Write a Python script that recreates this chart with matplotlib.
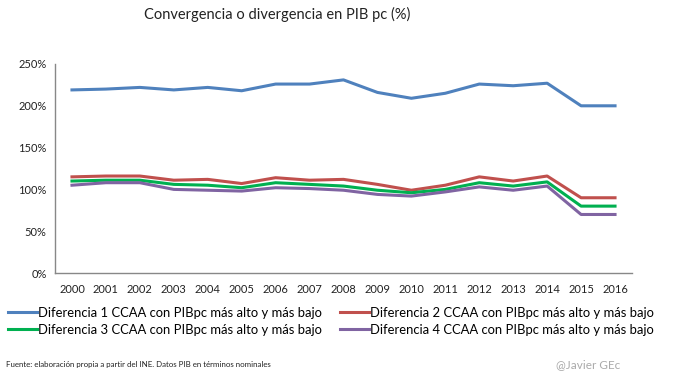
import numpy as np
import matplotlib
matplotlib.use("Agg")
import matplotlib.pyplot as plt
from matplotlib.ticker import FuncFormatter

plt.rcParams['font.family'] = ['Lato', 'DejaVu Sans']

years = list(range(2000, 2017))
dif1 = [219, 220, 222, 219, 222, 218, 226, 226, 231, 216, 209, 215, 226, 224, 227, 200, 200]
dif2 = [115, 116, 116, 111, 112, 107, 114, 111, 112, 106, 99, 105, 115, 110, 116, 90, 90]
dif3 = [110, 111, 111, 106, 105, 102, 108, 106, 104, 99, 96, 100, 108, 104, 109, 80, 80]
dif4 = [105, 108, 108, 100, 99, 98, 102, 101, 99, 94, 92, 97, 103, 99, 104, 70, 70]
labels = ["Diferencia 1 CCAA con PIBpc más alto y más bajo",
          "Diferencia 2 CCAA con PIBpc más alto y más bajo",
          "Diferencia 3 CCAA con PIBpc más alto y más bajo",
          "Diferencia 4 CCAA con PIBpc más alto y más bajo"]
colors = ["#4F81BD", "#C0504D", "#00B050", "#8064A2"]

fig = plt.figure(figsize=(6.76, 3.78), dpi=100)
ax = fig.add_axes([55/676, 1-273/378, (632-55)/676, (273-64)/378])

lines = []
for s, lab, c in zip([dif1, dif2, dif3, dif4], labels, colors):
    l, = ax.plot(years, s, color=c, lw=2.2, label=lab)
    lines.append(l)

ax.set_xlim(1999.5, 2016.5)
ax.set_ylim(0, 250)
ax.set_yticks(range(0, 251, 50))
ax.yaxis.set_major_formatter(FuncFormatter(lambda v, p: "%d%%" % v))
ax.set_xticks(years)
ax.tick_params(axis='both', length=0, labelsize=8, colors='#222222')
ax.tick_params(axis='x', pad=8)
ax.tick_params(axis='y', pad=6)
for sp in ['top', 'right']:
    ax.spines[sp].set_visible(False)
for sp in ['left', 'bottom']:
    ax.spines[sp].set_color('#888888')
    ax.spines[sp].set_linewidth(1)

fig.text(277/676, 1-14/378, "Convergencia o divergencia en PIB pc (%)",
         ha='center', va='center', fontsize=10.5, color='#222222')

# legend filled row by row
order = [0, 2, 1, 3]
fig.legend([lines[i] for i in order], [labels[i] for i in order],
           loc='upper left', bbox_to_anchor=(8/676, 1-307/378), ncol=2,
           frameon=False, fontsize=9.4, handlelength=2.2, handletextpad=0.08,
           columnspacing=1.4, labelspacing=0.35, borderaxespad=0, borderpad=0)

fig.text(6/676, 1-364/378, "Fuente: elaboración propia a partir del INE. Datos PIB en términos nominales",
         ha='left', va='center', fontsize=5.7, color='#222222')
fig.text(620/676, 1-365/378, "@Javier GEc", ha='right', va='center',
         fontsize=8.5, color='#aaaaaa')

fig.savefig("out.png", dpi=100)
